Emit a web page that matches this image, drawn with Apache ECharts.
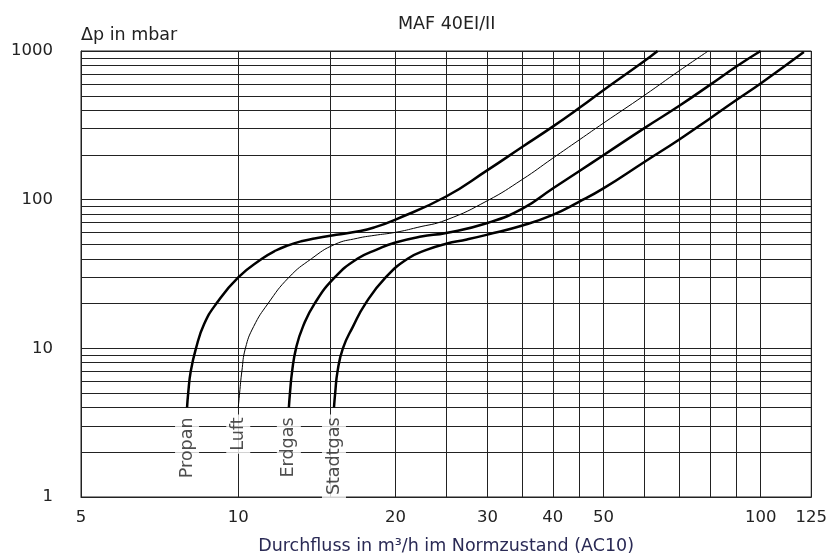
<!DOCTYPE html>
<html>
<head>
<meta charset="utf-8">
<script src="https://cdn.jsdelivr.net/npm/echarts@6/dist/echarts.min.js"></script>
<style>html,body{margin:0;padding:0;background:#fff}#c{width:830px;height:560px}</style>
</head>
<body>
<div id="c"></div>
<script>
var xGrid = [5,10,15,20,25,30,35,40,45,50,60,70,80,90,100,125];
var yGrid = [1,2,3,4,5,6,7,8,9,10,20,30,40,50,60,70,80,90,100,200,300,400,500,600,700,800,900,1000];
var xTickLabels = [5,10,20,30,40,50,100,125];
var yTickLabels = [1,10,100,1000];

var gasNames = ['Propan','Luft','Erdgas','Stadtgas'];
var propan = [[7.98,4],[8.02,5],[8.11,7],[8.3,10],[8.6,14.5],[9.08,20],[10,30],[11.1,40],[11.8,45.5],[12.5,49.5],[13.2,52.5],[14,54.8],[15.4,58],[16.9,61],[18.2,65],[20,73.5],[25,105],[30,158],[35,227],[40,310],[45,415],[50,545],[60,860],[63.5,1000]];
var luft = [[10,4],[10.06,5],[10.16,7],[10.32,10],[10.7,14],[11.4,20],[12.5,30],[13.8,40],[15.3,50],[16.9,55],[18.2,57.5],[20,60.3],[22,65],[25,73],[30,98.5],[35,137],[40,190],[45,253],[50,327],[60,505],[70,740],[79.4,1000]];
var erdgas = [[12.5,4],[12.56,5],[12.68,7],[12.9,10],[13.3,14],[14.0,20],[15.3,30],[16.9,40],[18.5,46.5],[20,51.5],[22.4,56.5],[25,59.7],[30,69.7],[35,87],[40,119],[45,156],[50,199],[60,304],[70,430],[80,592],[90,790],[100,1000]];
var stadtgas = [[15.25,4],[15.33,5],[15.49,7],[15.86,10],[16.58,14],[17.52,20],[19.15,30],[21.1,40],[23,46.1],[25,50.5],[27.4,54],[30,58.2],[35,67],[40,79],[45,97],[50,119],[60,180],[70,255],[80,352],[90,470],[100,605],[121,985]];
var gasData = [propan, luft, erdgas, stadtgas];
var lineWidths = [2.5, 1, 2.5, 2.5];

var FONT = 'DejaVu Sans';
var chart = echarts.init(document.getElementById('c'), null, {renderer:'canvas'});

var series = gasData.map(function(d, i){
  return {
    type:'line', name: gasNames[i], data: d, smooth: 0.5, showSymbol:false, symbol:'none',
    lineStyle:{color:'#000', width: lineWidths[i]}, z: 5
  };
});
series.push({
  type:'scatter', symbolSize: 0, z: 10,
  data: gasData.map(function(d, i){ return {name: gasNames[i], value: d[0]}; }),
  label:{
    show:true, formatter:'{b}', position:'bottom', distance: 7, rotate: 90,
    align:'right', verticalAlign:'middle', fontFamily: FONT, fontSize: 17.5, color:'#222',
    backgroundColor:'#fff', padding:[3,3,3,3]
  }
});

function fmt(v){ return String(Math.round(v)); }

chart.setOption({
  animation:false,
  backgroundColor:'#fff',
  title:{text:'MAF 40EI/II', left: 393, top: 10, textStyle:{fontFamily:FONT, fontSize:17.5, fontWeight:'normal', color:'#222'}},
  grid:{left:81, right:14, top:51, bottom:62, show:true, borderColor:'#222', borderWidth:1},
  xAxis:{
    type:'log', logBase:10, min:5, max:125,
    name:'Durchfluss in m³/h im Normzustand (AC10)', nameLocation:'middle', nameGap:40,
    nameTextStyle:{fontFamily:FONT, fontSize:17.5, color:'#2a2a55'},
    axisLine:{show:true, lineStyle:{color:'#222', width:1}},
    axisTick:{show:false, customValues: xGrid},
    axisLabel:{customValues: xTickLabels, formatter: fmt, fontFamily:FONT, fontSize:16.5, color:'#222', margin:12},
    splitLine:{show:true, lineStyle:{color:'#222', width:1}}
  },
  yAxis:{
    type:'log', logBase:10, min:1, max:1000,
    name:'Δp in mbar', nameLocation:'end', nameGap:7,
    nameTextStyle:{fontFamily:FONT, fontSize:17.5, color:'#222', align:'left'},
    axisLine:{show:true, lineStyle:{color:'#222', width:1}},
    axisTick:{show:false, customValues: yGrid},
    axisLabel:{customValues: yTickLabels, formatter: fmt, fontFamily:FONT, fontSize:16.5, color:'#222', margin:28},
    splitLine:{show:true, lineStyle:{color:'#222', width:1}}
  },
  series: series
});
</script>
</body>
</html>
